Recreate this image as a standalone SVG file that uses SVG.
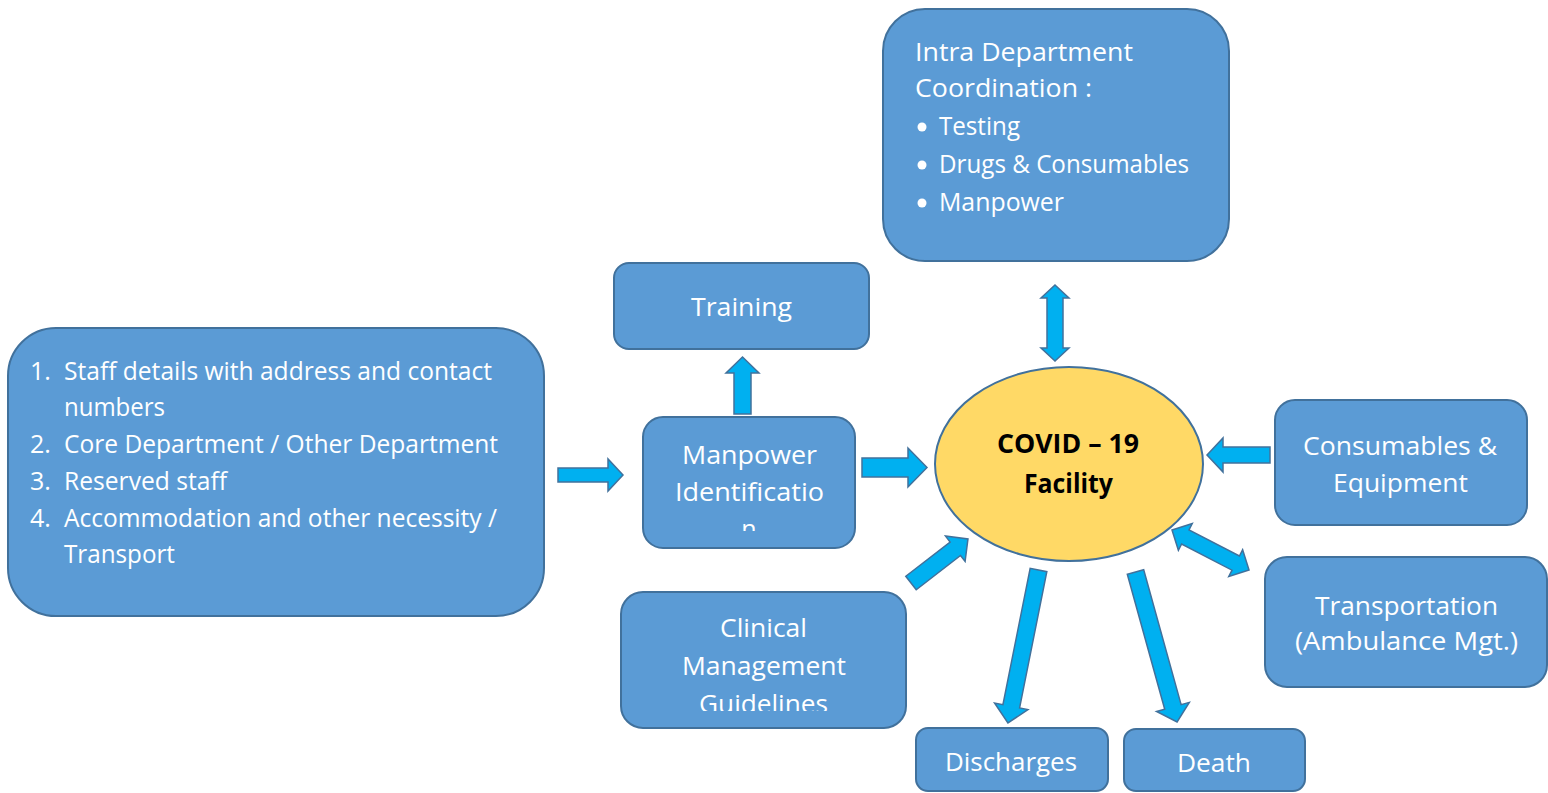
<svg xmlns="http://www.w3.org/2000/svg" width="1548" height="793" viewBox="0 0 1548 793">
<style>
.box{fill:#5B9BD5;stroke:#41719C;stroke-width:2}
.ell{fill:#FFD966;stroke:#41719C;stroke-width:2}
.arr{fill:#00B0F0;stroke:#41719C;stroke-width:1.5;stroke-linejoin:miter}
.t{font-family:"Open Sans","Noto Sans","Liberation Sans",sans-serif;font-size:25px;fill:#FFFFFF}
.b{font-family:"Open Sans","Noto Sans","Liberation Sans",sans-serif;font-size:26px;font-weight:bold;fill:#000000}
</style>
<defs>
<clipPath id="clipMan"><rect x="643" y="417" width="212" height="114"/></clipPath>
<clipPath id="clipClin"><rect x="621" y="592" width="285" height="119"/></clipPath>
</defs>
<rect width="1548" height="793" fill="#FFFFFF"/>

<g id="connectors">
<polygon class="arr" points="558,468 608,468 608,459 623,475 608,491 608,482 558,482"/>
<polygon class="arr" points="862,458 908,458 908,448 927,467.5 908,487 908,477 862,477"/>
<polygon class="arr" points="734,414 734,373 726,373 742.5,357 759,373 751,373 751,414"/>
<polygon class="arr" points="1055,285 1069,298 1063,298 1063,348 1069,348 1055,361 1041,348 1047,348 1047,298 1041,298"/>
<polygon class="arr" points="1207,455 1223,438 1223,447 1270,447 1270,463 1223,463 1223,472"/>
<polygon class="arr" transform="translate(1172,530) rotate(27.45)" points="0,0 15,-15 15,-8 71.8,-8 71.8,-15 86.8,0 71.8,15 71.8,8 15,8 15,15"/>
<polygon class="arr" transform="translate(911,583) rotate(-37.7)" points="0,-8.5 56,-8.5 56,-16 72,0 56,16 56,8.5 0,8.5"/>
<polygon class="arr" transform="translate(1038.5,570) rotate(101.3)" points="0,-8.5 139,-8.5 139,-17 156,0 139,17 139,8.5 0,8.5"/>
<polygon class="arr" transform="translate(1135.5,572) rotate(74.5)" points="0,-8.5 140,-8.5 140,-17 155.6,0 140,17 140,8.5 0,8.5"/>
</g>

<g id="node-staff">
<rect class="box" x="8" y="328" width="536" height="288" rx="48" ry="48"/>
<text class="t" x="30" y="380">1.</text>
<text class="t" x="64" y="380" textLength="428" lengthAdjust="spacingAndGlyphs">Staff details with address and contact</text>
<text class="t" x="64" y="416" textLength="101" lengthAdjust="spacingAndGlyphs">numbers</text>
<text class="t" x="30" y="453">2.</text>
<text class="t" x="64" y="453" textLength="434" lengthAdjust="spacingAndGlyphs">Core Department / Other Department</text>
<text class="t" x="30" y="490">3.</text>
<text class="t" x="64" y="490" textLength="163" lengthAdjust="spacingAndGlyphs">Reserved staff</text>
<text class="t" x="30" y="527">4.</text>
<text class="t" x="64" y="527" textLength="433" lengthAdjust="spacingAndGlyphs">Accommodation and other necessity /</text>
<text class="t" x="64" y="563" textLength="111" lengthAdjust="spacingAndGlyphs">Transport</text>
</g>

<g id="node-intra">
<rect class="box" x="883" y="9" width="346" height="252" rx="42" ry="42"/>
<text class="t" x="915" y="61" textLength="218" lengthAdjust="spacingAndGlyphs">Intra Department</text>
<text class="t" x="915" y="97" textLength="177" lengthAdjust="spacingAndGlyphs">Coordination :</text>
<circle cx="922" cy="127" r="4.5" fill="#FFFFFF"/>
<text class="t" x="939" y="135" textLength="81" lengthAdjust="spacingAndGlyphs">Testing</text>
<circle cx="922" cy="165" r="4.5" fill="#FFFFFF"/>
<text class="t" x="939" y="173" textLength="250" lengthAdjust="spacingAndGlyphs">Drugs &amp; Consumables</text>
<circle cx="922" cy="203" r="4.5" fill="#FFFFFF"/>
<text class="t" x="939" y="211" textLength="125" lengthAdjust="spacingAndGlyphs">Manpower</text>
</g>

<g id="node-training">
<rect class="box" x="614" y="263" width="255" height="86" rx="15" ry="15"/>
<text class="t" x="691" y="316" textLength="101" lengthAdjust="spacingAndGlyphs">Training</text>
</g>

<g id="node-manpower">
<rect class="box" x="643" y="417" width="212" height="131" rx="20" ry="20"/>
<g clip-path="url(#clipMan)">
<text class="t" x="682" y="464" textLength="135" lengthAdjust="spacingAndGlyphs">Manpower</text>
<text class="t" x="675" y="501" textLength="149" lengthAdjust="spacingAndGlyphs">Identificatio</text>
<text class="t" x="749" y="538" text-anchor="middle">n</text>
</g>
</g>

<g id="node-covid">
<ellipse class="ell" cx="1069" cy="464" rx="134" ry="97"/>
<text class="b" x="997" y="453" textLength="142" lengthAdjust="spacingAndGlyphs">COVID – 19</text>
<text class="b" x="1024" y="493" textLength="89" lengthAdjust="spacingAndGlyphs">Facility</text>
</g>

<g id="node-consumables">
<rect class="box" x="1275" y="400" width="252" height="125" rx="20" ry="20"/>
<text class="t" x="1303" y="455" textLength="194" lengthAdjust="spacingAndGlyphs">Consumables &amp;</text>
<text class="t" x="1333" y="492" textLength="135" lengthAdjust="spacingAndGlyphs">Equipment</text>
</g>

<g id="node-transport">
<rect class="box" x="1265" y="557" width="282" height="130" rx="22" ry="22"/>
<text class="t" x="1315" y="615" textLength="183" lengthAdjust="spacingAndGlyphs">Transportation</text>
<text class="t" x="1295" y="650" textLength="223" lengthAdjust="spacingAndGlyphs">(Ambulance Mgt.)</text>
</g>

<g id="node-clinical">
<rect class="box" x="621" y="592" width="285" height="136" rx="22" ry="22"/>
<g clip-path="url(#clipClin)">
<text class="t" x="720" y="637" textLength="87" lengthAdjust="spacingAndGlyphs">Clinical</text>
<text class="t" x="682" y="675" textLength="164" lengthAdjust="spacingAndGlyphs">Management</text>
<text class="t" x="699" y="713" textLength="129" lengthAdjust="spacingAndGlyphs">Guidelines</text>
</g>
</g>

<g id="node-discharges">
<rect class="box" x="916" y="728" width="192" height="63" rx="12" ry="12"/>
<text class="t" x="945" y="771" textLength="132" lengthAdjust="spacingAndGlyphs">Discharges</text>
</g>

<g id="node-death">
<rect class="box" x="1124" y="729" width="181" height="62" rx="12" ry="12"/>
<text class="t" x="1177" y="772" textLength="74" lengthAdjust="spacingAndGlyphs">Death</text>
</g>
</svg>
